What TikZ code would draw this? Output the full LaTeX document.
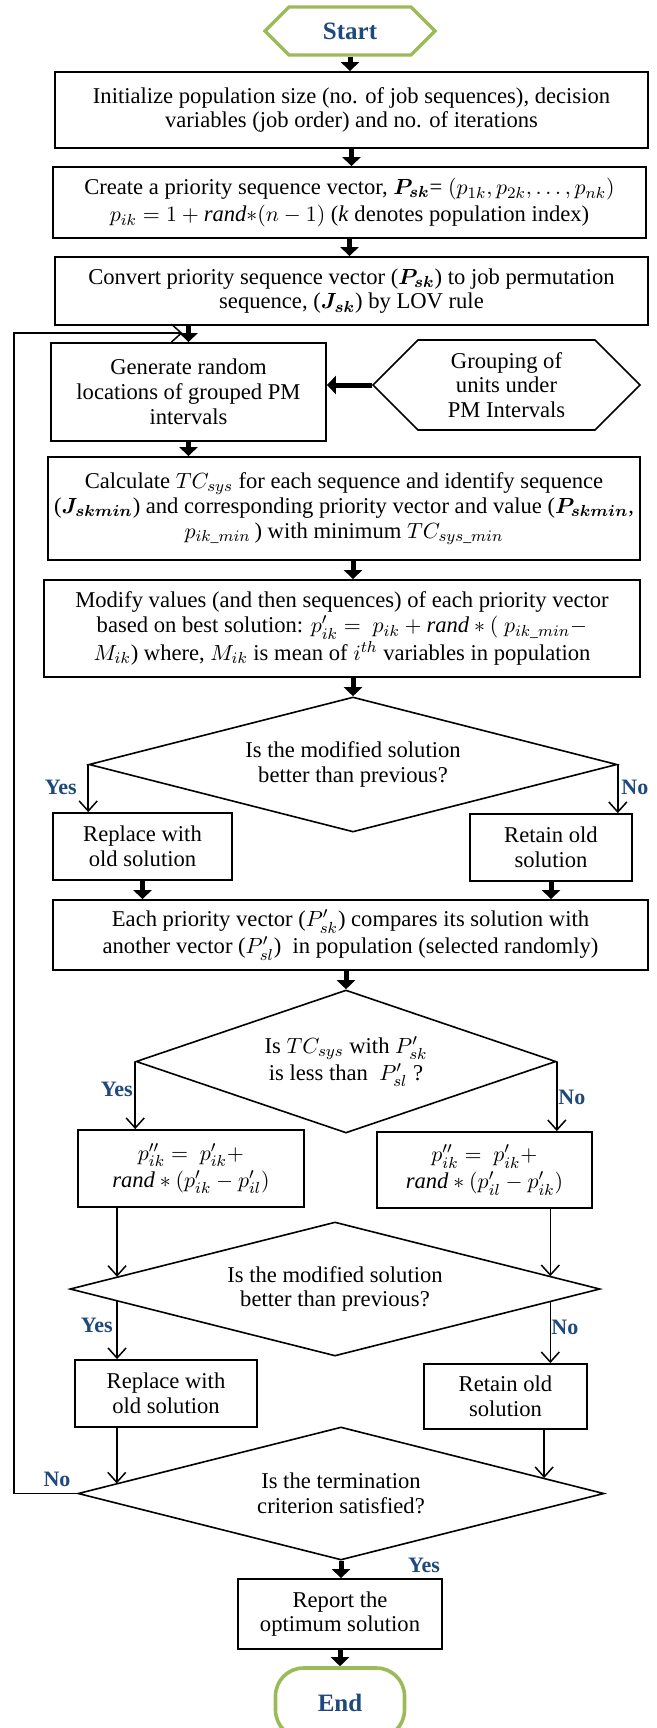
\documentclass[tikz,border=0pt]{standalone}
\usepackage{amsmath}
\usepackage{fontspec}
\setmainfont{Liberation Serif}
\usetikzlibrary{arrows.meta,shapes.geometric,shapes.symbols,calc}

\definecolor{termgreen}{HTML}{9BBB59}
\definecolor{labelblue}{HTML}{1F497D}

\begin{document}
\begin{tikzpicture}[x=1pt, y=-1pt, font=\fontsize{11.3}{12.4}\selectfont,
  dims/.style 2 args={minimum width=#1, minimum height=#2},
  process/.style={draw, line width=0.9pt, align=center, inner sep=1pt},
  loose/.style={font=\fontsize{11.3}{13.5}\selectfont},
  decision/.style={diamond, draw, line width=0.8pt, align=center, inner sep=0pt},
  inputhex/.style={signal, signal to=west and east, signal pointer angle=90,
    draw, line width=0.8pt, align=center, inner sep=1pt},
  starthex/.style={inputhex, draw=termgreen, line width=1.6pt, text=labelblue,
    font=\fontsize{12.5}{14}\selectfont\bfseries},
  endcap/.style={draw=termgreen, line width=1.8pt, rounded corners=14pt,
    text=labelblue, font=\fontsize{12.5}{14}\selectfont\bfseries},
  flow/.style={line width=2.5pt, -{Triangle[length=4.5pt, width=9pt]}},
  branch/.style={line width=0.75pt, -{Straight Barb[length=5pt, width=9pt]}},
  answer/.style={text=labelblue, font=\fontsize{11}{12}\selectfont\bfseries, inner sep=0pt}]

  % 画布
  \useasboundingbox (0,0) rectangle (328.5,864);
  \clip (0,0) rectangle (328.5,864);

  % 初始化部分
  \node[starthex, dims={85pt}{24pt}] (start) at (175,15.5) {Start};
  \node[process, dims={296.5pt}{38pt}] (init) at (175.75,55)
    {Initialize population size (no. of job sequences), decision\\
     variables (job order) and no. of iterations};
  \node[process, loose, dims={296.5pt}{35.5pt}] (create) at (174.75,101.25)
    {Create a priority sequence vector, $\boldsymbol{P_{sk}}$= $(p_{1k}, p_{2k},\ldots, p_{nk})$\\
     $p_{ik} = 1 + \mathit{rand}{*}(n-1)$ (\textit{k} denotes population index)};
  \node[process, dims={296.5pt}{34pt}] (convert) at (175.75,145.5)
    {Convert priority sequence vector ($\boldsymbol{P_{sk}}$) to job permutation\\
     sequence, ($\boldsymbol{J_{sk}}$) by LOV rule};

  % PM 分组
  \node[process, dims={137.5pt}{49pt}] (locate) at (94.25,196)
    {Generate random\\locations of grouped PM\\intervals};
  \node[inputhex, dims={133.5pt}{45pt}] (group) at (253.25,192.5)
    {Grouping of\\units under\\PM Intervals};
  \node[process, dims={296pt}{51.5pt}] (calc) at (172,254.25)
    {Calculate $TC_{sys}$ for each sequence and identify sequence\\
     ($\boldsymbol{J_{skmin}}$) and corresponding priority vector and value ($\boldsymbol{P_{skmin}}$,\\
     $p_{ik\_min}$\,) with minimum $TC_{sys\_min}$};
  \node[process, dims={298pt}{48.5pt}] (modify) at (171,314.25)
    {Modify values (and then sequences) of each priority vector\\
     based on best solution: $p'_{ik} =\ p_{ik} + \mathit{rand} * (\ p_{ik\_min} -$\\
     $M_{ik}$) where, $M_{ik}$ is mean of $i^{th}$ variables in population};

  % 第一次比较
  \node[decision, aspect=3.91, dims={264pt}{67.5pt}] (check1) at (176.5,382.25)
    {Is the modified solution\\better than previous?};
  \node[process, dims={89.5pt}{33.5pt}] (replace1) at (71.25,423.25)
    {Replace with\\old solution};
  \node[process, dims={81pt}{33.5pt}] (retain1) at (275.5,423.75)
    {Retain old\\solution};
  \node[process, loose, dims={297.5pt}{35pt}] (pair) at (175.25,467.5)
    {Each priority vector ($P'_{sk}$) compares its solution with\\
     another vector ($P'_{sl}$)\ \ in population (selected randomly)};

  % 两两比较
  \node[decision, loose, aspect=2.94, dims={210pt}{71.5pt}] (less) at (173,530.75)
    {Is $TC_{sys}$ with $P'_{sk}$\\is less than\ \ $P'_{sl}$ ?};
  \node[process, loose, dims={113pt}{38.5pt}] (moveL) at (95.5,584.25)
    {$p''_{ik} =\ p'_{ik} +$\\$\mathit{rand} * (p'_{ik} - p'_{il})$};
  \node[process, loose, dims={107.5pt}{38pt}] (moveR) at (242.25,585)
    {$p''_{ik} =\ p'_{ik} +$\\$\mathit{rand} * (p'_{il} - p'_{ik})$};
  \node[decision, aspect=3.96, dims={265pt}{67pt}] (check2) at (167.5,644.5)
    {Is the modified solution\\better than previous?};
  \node[process, dims={91pt}{33.5pt}] (replace2) at (83,696.75)
    {Replace with\\old solution};
  \node[process, dims={81.5pt}{32.5pt}] (retain2) at (252.75,698.25)
    {Retain old\\solution};

  % 终止
  \node[decision, aspect=3.96, dims={263pt}{66.5pt}] (stop) at (170.5,746.75)
    {Is the termination\\criterion satisfied?};
  \node[process, dims={102pt}{35pt}] (report) at (170,807)
    {Report the\\optimum solution};
  \node[endcap, dims={64.5pt}{35pt}] (finish) at (170,851.5) {End};

  % 是/否
  \node[answer, anchor=east] (yes1) at (38.5,393.5) {Yes};
  \node[answer, anchor=west] (no1) at (310.5,393.5) {No};
  \node[answer, anchor=east] (yes2) at (66.5,544.5) {Yes};
  \node[answer, anchor=west] (no2) at (279,548.5) {No};
  \node[answer, anchor=east] (yes3) at (56.5,662.5) {Yes};
  \node[answer, anchor=west] (no3) at (275.5,663.5) {No};
  \node[answer] (no4) at (28.5,739.5) {No};
  \node[answer] (yes4) at (212,782.5) {Yes};

  % 粗箭头
  \draw[flow] (start.south) -- (start.south |- init.north);
  \draw[flow] (init.south) -- (init.south |- create.north);
  \draw[flow] (create.south) -- (create.south |- convert.north);
  \draw[flow] (locate.north |- convert.south) -- (locate.north);
  \draw[flow] (group.west) -- (group.west -| locate.east);
  \draw[flow] (locate.south) -- (locate.south |- calc.north);
  \draw[flow] (check1.north |- calc.south) -- (check1.north |- modify.north);
  \draw[flow] (check1.north |- modify.south) -- (check1.north);
  \draw[flow] (replace1.south) -- (replace1.south |- pair.north);
  \draw[flow] (retain1.south) -- (retain1.south |- pair.north);
  \draw[flow] (less.north |- pair.south) -- (less.north);
  \draw[flow] (stop.south) -- (stop.south |- report.north);
  \draw[flow] (report.south) -- (report.south |- finish.north);

  % 细箭头
  \draw[branch] (check1.west) -- (check1.west |- replace1.north);
  \draw[branch] (check1.east) -- (check1.east |- retain1.north);
  \draw[branch] (less.west) -- (less.west |- moveL.north);
  \draw[branch] (less.east) -- (less.east |- moveR.north);

  \coordinate (inL) at ($(check2.west)!0.18!(check2.north)$);
  \coordinate (outL) at ($(check2.west)!0.18!(check2.south)$);
  \coordinate (inR) at ($(check2.east)!0.19!(check2.north)$);
  \coordinate (outR) at ($(check2.east)!0.19!(check2.south)$);
  \draw[branch] (moveL.south -| inL) -- (inL);
  \draw[branch] (moveR.south -| inR) -- (inR);
  \draw[branch] (outL) -- (outL |- replace2.north);
  \draw[branch] (outR) -- (outR |- retain2.north);

  \coordinate (endL) at ($(stop.west)!0.15!(stop.north)$);
  \coordinate (endR) at ($(stop.east)!0.23!(stop.north)$);
  \draw[branch] (replace2.south -| endL) -- (endL);
  \draw[branch] (retain2.south -| endR) -- (endR);

  % 回路
  \coordinate (loopend) at ($(locate.north)+(-3,-4.5)$);
  \draw[branch] (stop.west) -- ++(-31.5,0) |- (loopend);
\end{tikzpicture}
\end{document}
